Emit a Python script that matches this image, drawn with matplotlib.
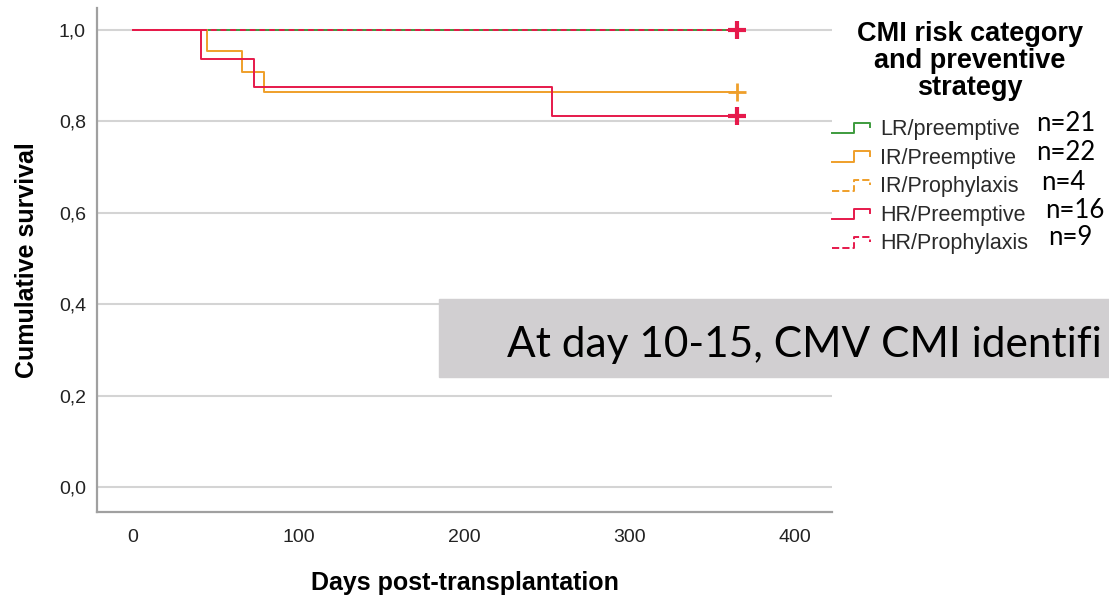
import matplotlib
matplotlib.use("Agg")
import matplotlib.pyplot as plt
from matplotlib.lines import Line2D
from matplotlib.patches import Rectangle
from matplotlib.legend_handler import HandlerBase
from matplotlib.ticker import FuncFormatter

plt.rcParams['font.family'] = ['Liberation Sans', 'DejaVu Sans']

# Kaplan-Meier steps per group (day of event, survival after the event)
lr_pre_days = [0, 365]
lr_pre_surv = [1.0, 1.0]
ir_pre_days = [0, 45, 66, 79, 365]
ir_pre_surv = [1.0, 0.955, 0.909, 0.864, 0.864]
ir_pro_days = [0, 365]
ir_pro_surv = [1.0, 1.0]
hr_pre_days = [0, 41, 73, 253, 365]
hr_pre_surv = [1.0, 0.9375, 0.875, 0.8125, 0.8125]
hr_pro_days = [0, 365]
hr_pro_surv = [1.0, 1.0]

group_names = ["LR/preemptive", "IR/Preemptive", "IR/Prophylaxis",
               "HR/Preemptive", "HR/Prophylaxis"]
group_n = ["n=21", "n=22", "n=4", "n=16", "n=9"]

green = '#3d9b3d'
orange = '#ef9f2a'
red = '#e6194b'

W, H = 1109, 600
fig = plt.figure(figsize=(W / 100, H / 100), dpi=100)
ax = fig.add_axes([97 / W, 88 / H, (832 - 97) / W, (512 - 8) / H])


class StepHandler(HandlerBase):
    # little step glyph like the SPSS survival legend
    def create_artists(self, legend, orig_handle, xdescent, ydescent,
                       width, height, fontsize, trans):
        x0, y0 = -xdescent, -ydescent
        lo, hi = y0 + 0.1 * height, y0 + 0.8 * height
        xs = [x0, x0 + 0.57 * width, x0 + 0.57 * width, x0 + width, x0 + width]
        ys = [lo, lo, hi, hi, y0 + 0.5 * height]
        ln = Line2D(xs, ys, color=orig_handle.get_color(),
                    linestyle=orig_handle.get_linestyle(),
                    lw=orig_handle.get_linewidth())
        ln.set_transform(trans)
        return [ln]


lw = 1.4
h3, = ax.step(ir_pro_days, ir_pro_surv, where='post', color=orange, lw=lw,
              ls=(0, (3, 2)), zorder=2)
h1, = ax.step(lr_pre_days, lr_pre_surv, where='post', color=green, lw=lw, zorder=3)
h2, = ax.step(ir_pre_days, ir_pre_surv, where='post', color=orange, lw=lw, zorder=3)
h4, = ax.step(hr_pre_days, hr_pre_surv, where='post', color=red, lw=lw, zorder=4)
h5, = ax.step(hr_pro_days, hr_pro_surv, where='post', color=red, lw=lw,
              ls=(0, (3, 2)), zorder=5)

# censored cases at the end of follow-up
ax.plot(ir_pre_days[-1], ir_pre_surv[-1], '+', color=orange, ms=13, mew=2, zorder=6)
ax.plot(hr_pre_days[-1], hr_pre_surv[-1], '+', color=red, ms=13, mew=3, zorder=6)
ax.plot(hr_pro_days[-1], hr_pro_surv[-1], '+', color=red, ms=13, mew=3, zorder=6)

ax.set_xlim(-21.75, 422.4)
ax.set_ylim(-0.0547, 1.048)
ax.set_xticks([0, 100, 200, 300, 400])
ax.set_yticks([0.0, 0.2, 0.4, 0.6, 0.8, 1.0])
ax.yaxis.set_major_formatter(FuncFormatter(lambda v, p: f"{v:.1f}".replace('.', ',')))
ax.tick_params(length=0, labelsize=14, colors='#222222')
ax.tick_params(axis='x', pad=12)
ax.tick_params(axis='y', pad=8)
ax.grid(axis='y', color='#d4d4d4', lw=1.5)
ax.set_axisbelow(True)
for s in ['top', 'right']:
    ax.spines[s].set_visible(False)
for s in ['left', 'bottom']:
    ax.spines[s].set_color('#a0a0a0')
    ax.spines[s].set_linewidth(1.6)

ax.set_xlabel("Days post-transplantation", fontsize=18, fontweight='bold', labelpad=18)
ax.set_ylabel("Cumulative survival", fontsize=18, fontweight='bold', labelpad=14)

fig.text(970 / W, 1 - 61 / H, "CMI risk category\nand preventive\nstrategy",
         ha='center', va='center', fontsize=19.5, fontweight='bold', linespacing=1.07)

leg = fig.legend([h1, h2, h3, h4, h5], group_names,
                 handler_map={Line2D: StepHandler()},
                 loc='upper left', bbox_to_anchor=(832 / W, 1 - 119 / H),
                 frameon=False, fontsize=15.5, borderpad=0, borderaxespad=0,
                 handlelength=1.77, handletextpad=0.47, labelspacing=0.35)
for t in leg.get_texts():
    t.set_color('#2a2a2a')

n_x = [1036, 1036, 1041, 1045, 1048]
n_y = [131, 160, 190, 218, 245]
for lab, x, y in zip(group_n, n_x, n_y):
    fig.text(x / W, 1 - y / H, lab, fontsize=18.5, family=['Lato', 'DejaVu Sans'],
             va='baseline', ha='left')

fig.add_artist(Rectangle((439 / W, (H - 377) / H), (W - 439) / W, 78 / H,
                         transform=fig.transFigure, color='#d1cfd1', zorder=5))
fig.text(507 / W, 1 - 357 / H, "At day 10-15, CMV CMI identifi", fontsize=30.5,
         family=['Lato', 'DejaVu Sans'], va='baseline', ha='left', zorder=6)

fig.savefig("out.png", dpi=100)
